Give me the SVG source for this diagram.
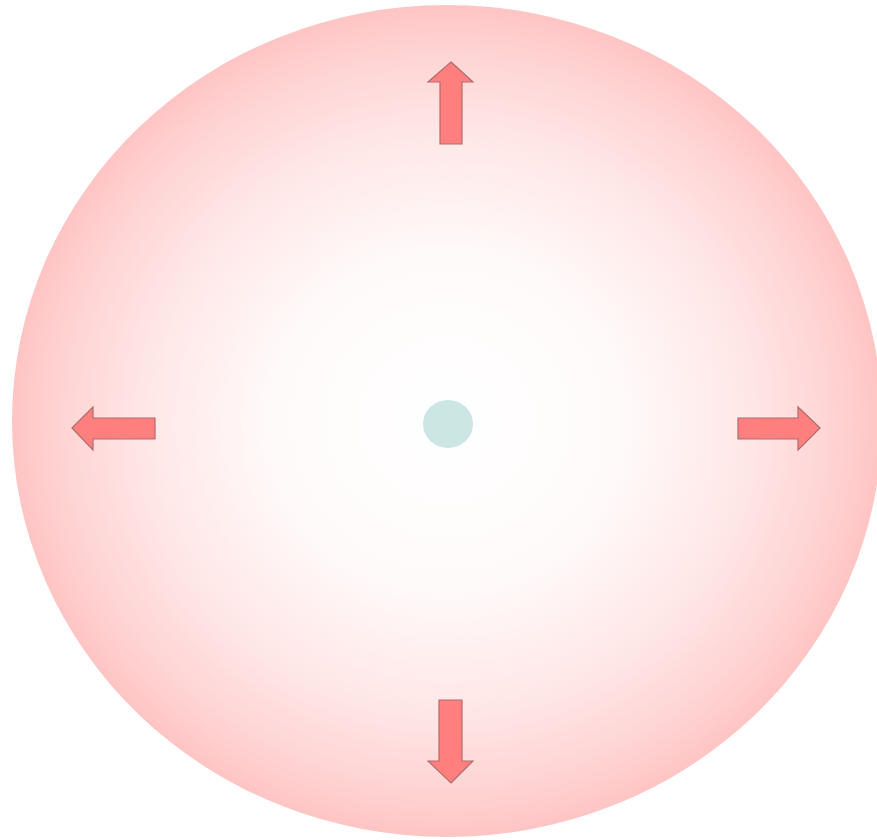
<svg xmlns="http://www.w3.org/2000/svg" width="877" height="840" viewBox="0 0 877 840">
<defs>
<radialGradient id="bg" cx="50%" cy="50%" r="50%">
<stop offset="0" stop-color="#ffffff"/>
<stop offset="0.4" stop-color="#fffafa"/>
<stop offset="0.7" stop-color="#ffe6e6"/>
<stop offset="0.9" stop-color="#ffd2d2"/>
<stop offset="1" stop-color="#ffc4c4"/>
</radialGradient>
<style>
.arrow{fill:#ff7f7f;stroke:#b06c6c;stroke-width:1.2}
</style>
</defs>
<rect width="877" height="840" fill="#ffffff"/>
<g id="disc"><ellipse cx="447" cy="421" rx="435" ry="416" fill="url(#bg)"/></g>
<g id="center"><ellipse cx="448" cy="424" rx="25" ry="24" fill="#cce6e4"/></g>
<g id="connectors">
<polygon id="arrow-up" class="arrow" points="451,62 473,82 462,82 462,144 440,144 440,82 428,82"/>
<polygon id="arrow-down" class="arrow" points="451,783 473,761 462,761 462,700 439,700 439,761 428,761"/>
<polygon id="arrow-left" class="arrow" points="72,428 93,407 93,418 155,418 155,439 93,439 93,450"/>
<polygon id="arrow-right" class="arrow" points="820,428 798,407 798,418 738,418 738,439 798,439 798,450"/>
</g>
</svg>
